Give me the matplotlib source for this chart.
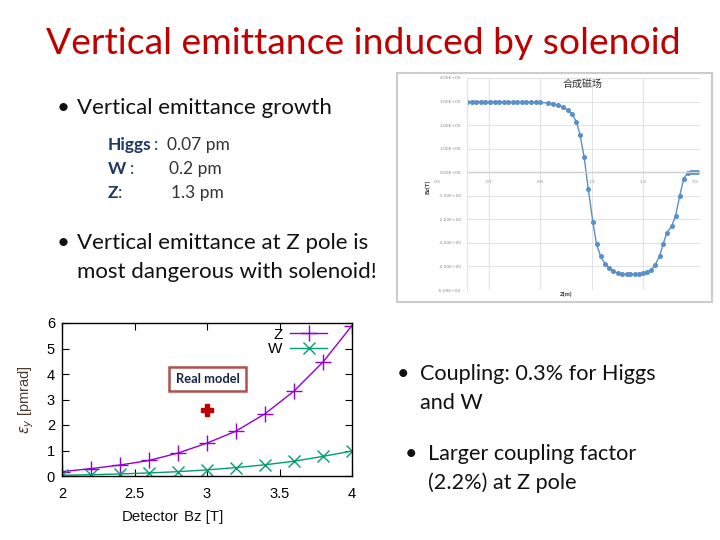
import matplotlib
matplotlib.use("Agg")
import matplotlib.pyplot as plt
from matplotlib.patches import Rectangle
import numpy as np

# left chart: vertical emittance vs detector field
bz_detector = [2.0, 2.2, 2.4, 2.6, 2.8, 3.0, 3.2, 3.4, 3.6, 3.8, 4.0]
emit_z = [0.17, 0.29, 0.43, 0.61, 0.90, 1.29, 1.76, 2.44, 3.33, 4.47, 5.90]
emit_w = [0.03, 0.05, 0.08, 0.12, 0.17, 0.24, 0.33, 0.44, 0.58, 0.77, 0.98]
real_bz = [3.0]
real_emit = [2.6]

# right chart: combined solenoid field along z
z_pos = [0.615, 0.633, 0.651, 0.668, 0.686, 0.704, 0.722, 0.740, 0.757, 0.775,
         0.793, 0.810, 0.828, 0.846, 0.864, 0.882, 0.900, 0.929, 0.948, 0.968,
         0.988, 1.007, 1.024, 1.040, 1.054, 1.070, 1.086, 1.104, 1.118, 1.134,
         1.151, 1.167, 1.183, 1.200, 1.217, 1.235, 1.250, 1.266, 1.283, 1.299,
         1.315, 1.331, 1.346, 1.363, 1.377, 1.391, 1.410, 1.425, 1.441, 1.457,
         1.472, 1.486, 1.498, 1.507]
bz_field = [3.00, 3.00, 3.00, 3.00, 3.00, 3.00, 3.00, 3.00, 2.99, 2.99,
            2.99, 2.99, 2.98, 2.98, 2.97, 2.97, 2.96, 2.94, 2.91, 2.84,
            2.77, 2.63, 2.46, 2.14, 1.59, 0.64, -0.71, -2.13, -3.04, -3.57,
            -3.89, -4.07, -4.20, -4.29, -4.33, -4.34, -4.34, -4.33, -4.31, -4.29,
            -4.24, -4.14, -3.93, -3.57, -3.04, -2.57, -2.29, -1.86, -1.01, -0.27,
            -0.02, 0.00, 0.00, 0.00]
field_yticks = [4, 3, 2, 1, 0, -1, -2, -3, -4, -5]
field_xticks = [0.5, 0.7, 0.9, 1.1, 1.3, 1.5]

W, H = 720, 540
fig = plt.figure(figsize=(7.2, 5.4), dpi=100)


def fx(x):
    return x / W


def fy(y):
    return 1 - y / H


def ftext(x, y, s, **kw):
    kw.setdefault("va", "center")
    kw.setdefault("family", "Lato")
    fig.text(fx(x), fy(y), s, **kw)


# slide texts
ink = "#111111"
ftext(46, 43, "Vertical emittance induced by solenoid", fontsize=26.8, color="#c00000")
ftext(57, 108, "\u2022", fontsize=16, color=ink)
ftext(77, 108, "Vertical emittance growth", fontsize=16, color=ink)

navy = "#1f3864"
ftext(108, 145, "Higgs", fontsize=12.5, color=navy, weight="bold")
ftext(154, 145, ":", fontsize=12.5, color=navy)
ftext(167, 145, "0.07 pm", fontsize=12.5, color="#333333")
ftext(108, 169, "W", fontsize=12.5, color=navy, weight="bold")
ftext(130, 169, ":", fontsize=12.5, color=navy)
ftext(169, 169, "0.2 pm", fontsize=12.5, color="#333333")
ftext(108, 193, "Z", fontsize=12.5, color=navy, weight="bold")
ftext(118, 193, ":", fontsize=12.5, color=navy)
ftext(171, 193, "1.3 pm", fontsize=12.5, color="#333333")

ftext(57, 243, "\u2022", fontsize=16, color=ink)
ftext(77, 243, "Vertical emittance at Z pole is", fontsize=16, color=ink)
ftext(77, 272, "most dangerous with solenoid!", fontsize=16, color=ink)

ftext(397, 374, "\u2022", fontsize=15.6, color=ink)
ftext(420, 374, "Coupling: 0.3% for Higgs", fontsize=15.6, color=ink)
ftext(420, 403, "and W", fontsize=15.6, color=ink)
ftext(405, 454, "\u2022", fontsize=15.6, color=ink)
ftext(428, 454, "Larger coupling factor", fontsize=15.6, color=ink)
ftext(428, 483, "(2.2%) at Z pole", fontsize=15.6, color=ink)

# ---- left chart (gnuplot style)
ax = fig.add_axes([fx(62), fy(476), fx(352) - fx(62), fy(323) - fy(476)])
purple = "#9400d3"
green = "#009e73"
ax.plot(bz_detector, emit_z, color=purple, lw=1, marker="+", ms=11, mew=1, label="Z")
ax.plot(bz_detector, emit_w, color=green, lw=1, marker="x", ms=8, mew=1, label="W")
ax.plot(real_bz, real_emit, ls="none", marker="P", ms=8, color="#c00000")
ax.set_xlim(2, 4)
ax.set_ylim(0, 6)
ax.set_xticks([2, 2.5, 3, 3.5, 4])
ax.set_xticklabels(["2", "2.5", "3", "3.5", "4"])
ax.set_yticks(range(7))
ax.tick_params(direction="in", top=True, right=True, length=5, labelsize=10.5,
               pad=5)
ax.tick_params(axis="x", pad=8)
for lab in ax.get_xticklabels() + ax.get_yticklabels():
    lab.set_family("Liberation Sans")
for sp in ax.spines.values():
    sp.set_linewidth(1)
ax.set_ylabel(r"$\varepsilon_y$ [pmrad]", fontsize=10.5, color="#4a3d30",
              family="Liberation Sans", labelpad=8)
ax.legend(loc="upper right", bbox_to_anchor=(0.945, 1.03), frameon=False,
          markerfirst=False, handlelength=2.4,
          prop={"family": "Liberation Sans", "size": 11}, borderaxespad=0.2,
          labelspacing=0.05, handletextpad=0.5)
ax.text(0.503, 0.634, "Real model", transform=ax.transAxes, fontsize=9.3,
        color="#17244a", weight="bold", family="Lato", ha="center", va="center",
        bbox=dict(boxstyle="square,pad=0.5", fc="white", ec="#b0504f", lw=1.8))
ftext(122, 517, "Detector", fontsize=10.8, color=ink, family="Liberation Sans")
ftext(184, 517, "Bz [T]", fontsize=10.8, color=ink, family="Liberation Sans")

# ---- right chart (excel style picture)
fig.patches.append(Rectangle((fx(397), fy(302)), fx(712) - fx(397), fy(73) - fy(302),
                             transform=fig.transFigure, fill=False, ec="#cccccc",
                             lw=1.5))
ax2 = fig.add_axes([fx(467), fy(290), fx(700) - fx(467), fy(78) - fy(290)])
ax2.plot(z_pos, bz_field, color="#5b8fc8", lw=1, marker="o", ms=2.6)
ax2.set_xlim(0.615, 1.52)
ax2.set_ylim(-5, 4)
ax2.set_yticks(field_yticks)
ax2.set_yticklabels(["%.2fE+00" % v for v in field_yticks])
ax2.set_xticks(field_xticks[1:-1])
ax2.set_xticklabels([])
ax2.tick_params(length=0, labelsize=3.2, labelcolor="#888888", pad=4)
ax2.grid(True, color="#e3e3e3", lw=0.8)
ax2.axhline(0, color="#d0d0d0", lw=1)
for sp in ax2.spines.values():
    sp.set_visible(False)
ax2.spines["left"].set_visible(True)
ax2.spines["left"].set_color("#e3e3e3")
for v in field_xticks:
    ax2.text(v, -0.35, "%.1f" % v, fontsize=3.2, color="#888888", ha="center",
             va="top", clip_on=False)
ftext(583, 84, "合成磁场", fontsize=7.2, family="Noto Sans CJK SC", color="#333333",
      ha="center")
ftext(428, 187, "Bz(T)", fontsize=4.5, color="#333333", weight="bold",
      rotation=90, ha="center")
ftext(566, 294, "Z(m)", fontsize=4.5, color="#333333", weight="bold", ha="center")

fig.savefig("out.png", dpi=100)
